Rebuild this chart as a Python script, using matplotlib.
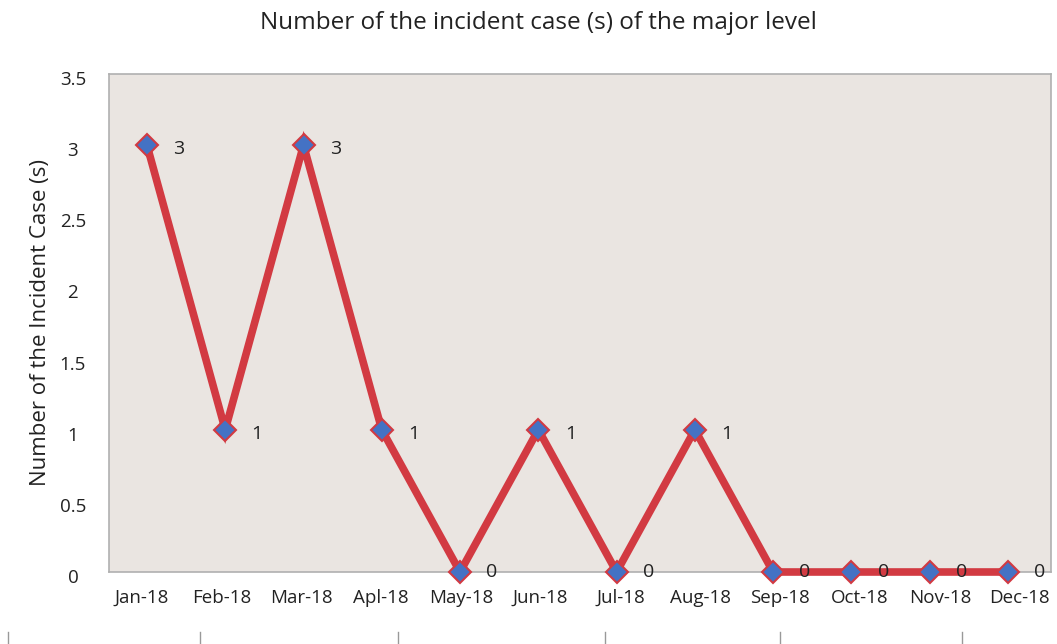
import matplotlib.pyplot as plt
import matplotlib.transforms as mtransforms
import numpy as np

months = ['Jan-18', 'Feb-18', 'Mar-18', 'Apl-18', 'May-18', 'Jun-18',
          'Jul-18', 'Aug-18', 'Sep-18', 'Oct-18', 'Nov-18', 'Dec-18']
cases = [3, 1, 3, 1, 0, 1, 0, 1, 0, 0, 0, 0]

plt.rcParams['font.family'] = ['Open Sans', 'DejaVu Sans']

fig = plt.figure(figsize=(10.57, 6.44), dpi=100)
ax = fig.add_axes([109 / 1057, 1 - 572 / 644, (1051 - 109) / 1057, (572 - 74) / 644])
ax.set_facecolor('#eae5e1')

x = np.arange(len(months))
ax.plot(x, cases, color='#d23a42', lw=5.5, marker='D', markersize=11,
        markerfacecolor='#4472c4', markeredgecolor='#d23a42', markeredgewidth=1.5,
        solid_joinstyle='miter', zorder=3, clip_on=False)
for xi, v in zip(x, cases):
    ax.annotate(str(v), (xi, v), xytext=(23, -3 if v else 0), textcoords='offset points',
                ha='center', va='center', fontsize=14, color='#222222')

ax.set_xlim(-0.485, 11.55)
ax.set_ylim(0, 3.5)
ax.set_yticks(np.arange(0, 3.51, 0.5))
ax.set_yticklabels(['0', '0.5', '1', '1.5', '2', '2.5', '3', '3.5'])
ax.set_xticks(x * 1.02 - 0.07)
ax.set_xticklabels(months)
ax.tick_params(axis='both', length=0, labelsize=13.5, colors='#222222')
ax.tick_params(axis='x', pad=12)
ax.tick_params(axis='y', pad=26)
shift = mtransforms.ScaledTranslation(0, -4 / 100, fig.dpi_scale_trans)
for lbl in ax.get_yticklabels():
    lbl.set_horizontalalignment('center')
    lbl.set_transform(lbl.get_transform() + shift)
for s in ax.spines.values():
    s.set_color('#b0b0b0')
    s.set_linewidth(1.2)

ax.set_ylabel('Number of the Incident Case (s)', fontsize=16, color='#222222', labelpad=6)
fig.text(538 / 1057, 1 - 23 / 644, 'Number of the incident case (s) of the major level',
         ha='center', va='center', fontsize=17.5, color='#222222')

# table cell borders peeking in at the bottom
for xp in [8, 200, 398, 605, 780, 962]:
    fig.add_artist(plt.Line2D([xp / 1057, xp / 1057], [0, 12 / 644], color='#999999', lw=1))

fig.savefig('out.png')
